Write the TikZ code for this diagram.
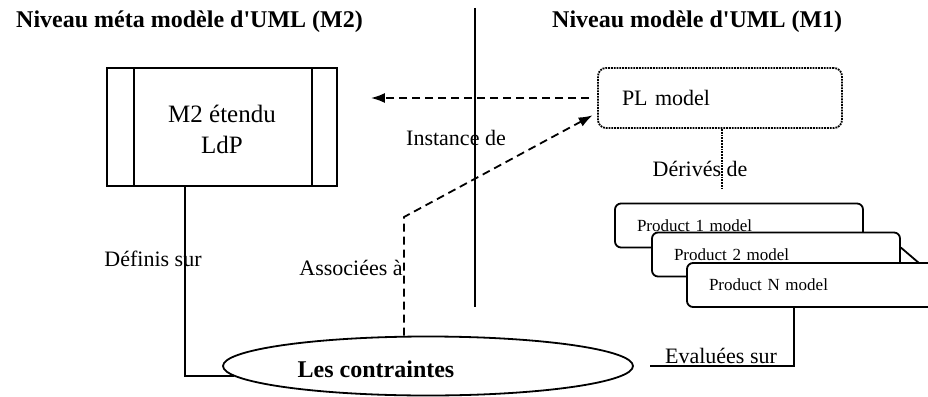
\documentclass[tikz,border=0pt]{standalone}
\usepackage{fontspec}
\setmainfont{Liberation Serif}
\usetikzlibrary{positioning}
\usetikzlibrary{shapes.geometric}
\usetikzlibrary{arrows.meta}

\begin{document}
\begin{tikzpicture}[x=1pt,y=-1pt,line width=1.8pt,
    metabox/.style={draw, minimum width=230pt, minimum height=118pt, align=center, font=\fontsize{25}{31}\selectfont},
    plbox/.style={draw, densely dotted, rounded corners=8pt, minimum height=60pt, text width=196pt, inner xsep=24pt, align=left, font=\fontsize{22}{26}\selectfont},
    prodbox/.style={draw, fill=white, rounded corners=6pt, minimum height=44pt, text width=204pt, inner xsep=22pt, align=left, font=\fontsize{17}{20}\selectfont},
    constr/.style={draw, ellipse, minimum width=410pt, minimum height=59pt},
    leveltitle/.style={anchor=base west, font=\fontsize{24}{28}\selectfont\bfseries},
    lbl/.style={anchor=base, font=\fontsize{22}{26}\selectfont},
    instarrow/.style={dash pattern=on 8pt off 5pt, -{Latex[length=14pt,width=10pt]}},
    derline/.style={densely dotted}]
\useasboundingbox (0,0) rectangle (928,396);

\node[leveltitle] (m2title) at (12,28) {Niveau méta modèle d\textquotesingle UML (M2)};
\node[leveltitle] (m1title) at (548,28) {Niveau modèle d\textquotesingle UML (M1)};
\coordinate (divtop) at (475,8);
\coordinate (divbot) at (475,307);

\node[metabox] (m2) at (222,127) {\rule{0pt}{22pt}M2 étendu\\LdP};
\node[plbox] (pl) at (720,98) {PL model};
\node[prodbox] (p1) at (739,225.5) {Product 1 model};
\node[prodbox] (p2) at (776,254.5) {Product 2 model};
\coordinate (stackend) at (940,281);
\draw ([yshift=-16pt]p2.north east) -- (stackend);
\node[prodbox] (p3) at (811,285) {Product N model};
\node[constr] (contr) at (428,366) {};
\node[anchor=base, font=\fontsize{24}{28}\selectfont\bfseries] (contrtxt) at (376,377) {Les contraintes};

\node[lbl] (deflbl) at (153,266) {Définis sur};
\node[lbl] (asslbl) at (351,275) {Associées à};
\node[lbl] (instlbl) at (456,145) {Instance de};
\node[lbl] (derlbl) at (700,176) {Dérivés de};
\node[lbl] (evallbl) at (721,363) {Evaluées sur};

\coordinate (bend) at (404,217);
\coordinate (derend) at (722,188);
\coordinate (evalend) at (650,366);

\draw (divtop) -- (divbot);
\draw ([xshift=28pt]m2.north west) -- ([xshift=28pt]m2.south west);
\draw ([xshift=-26pt]m2.north east) -- ([xshift=-26pt]m2.south east);
\draw[instarrow] ([xshift=-8pt]pl.west) -- ([xshift=33pt]pl.west -| m2.east);
\draw[instarrow, shorten >=5pt] ([xshift=-24pt]contr.north) -- (bend) -- ([yshift=16pt]pl.south west);
\draw[derline] ([xshift=2pt]pl.south) -- (derend);
\draw ([xshift=-37pt]m2.south) |- (contr.183);
\draw ([xshift=-17pt]p3.south) |- (evalend);
\end{tikzpicture}
\end{document}
